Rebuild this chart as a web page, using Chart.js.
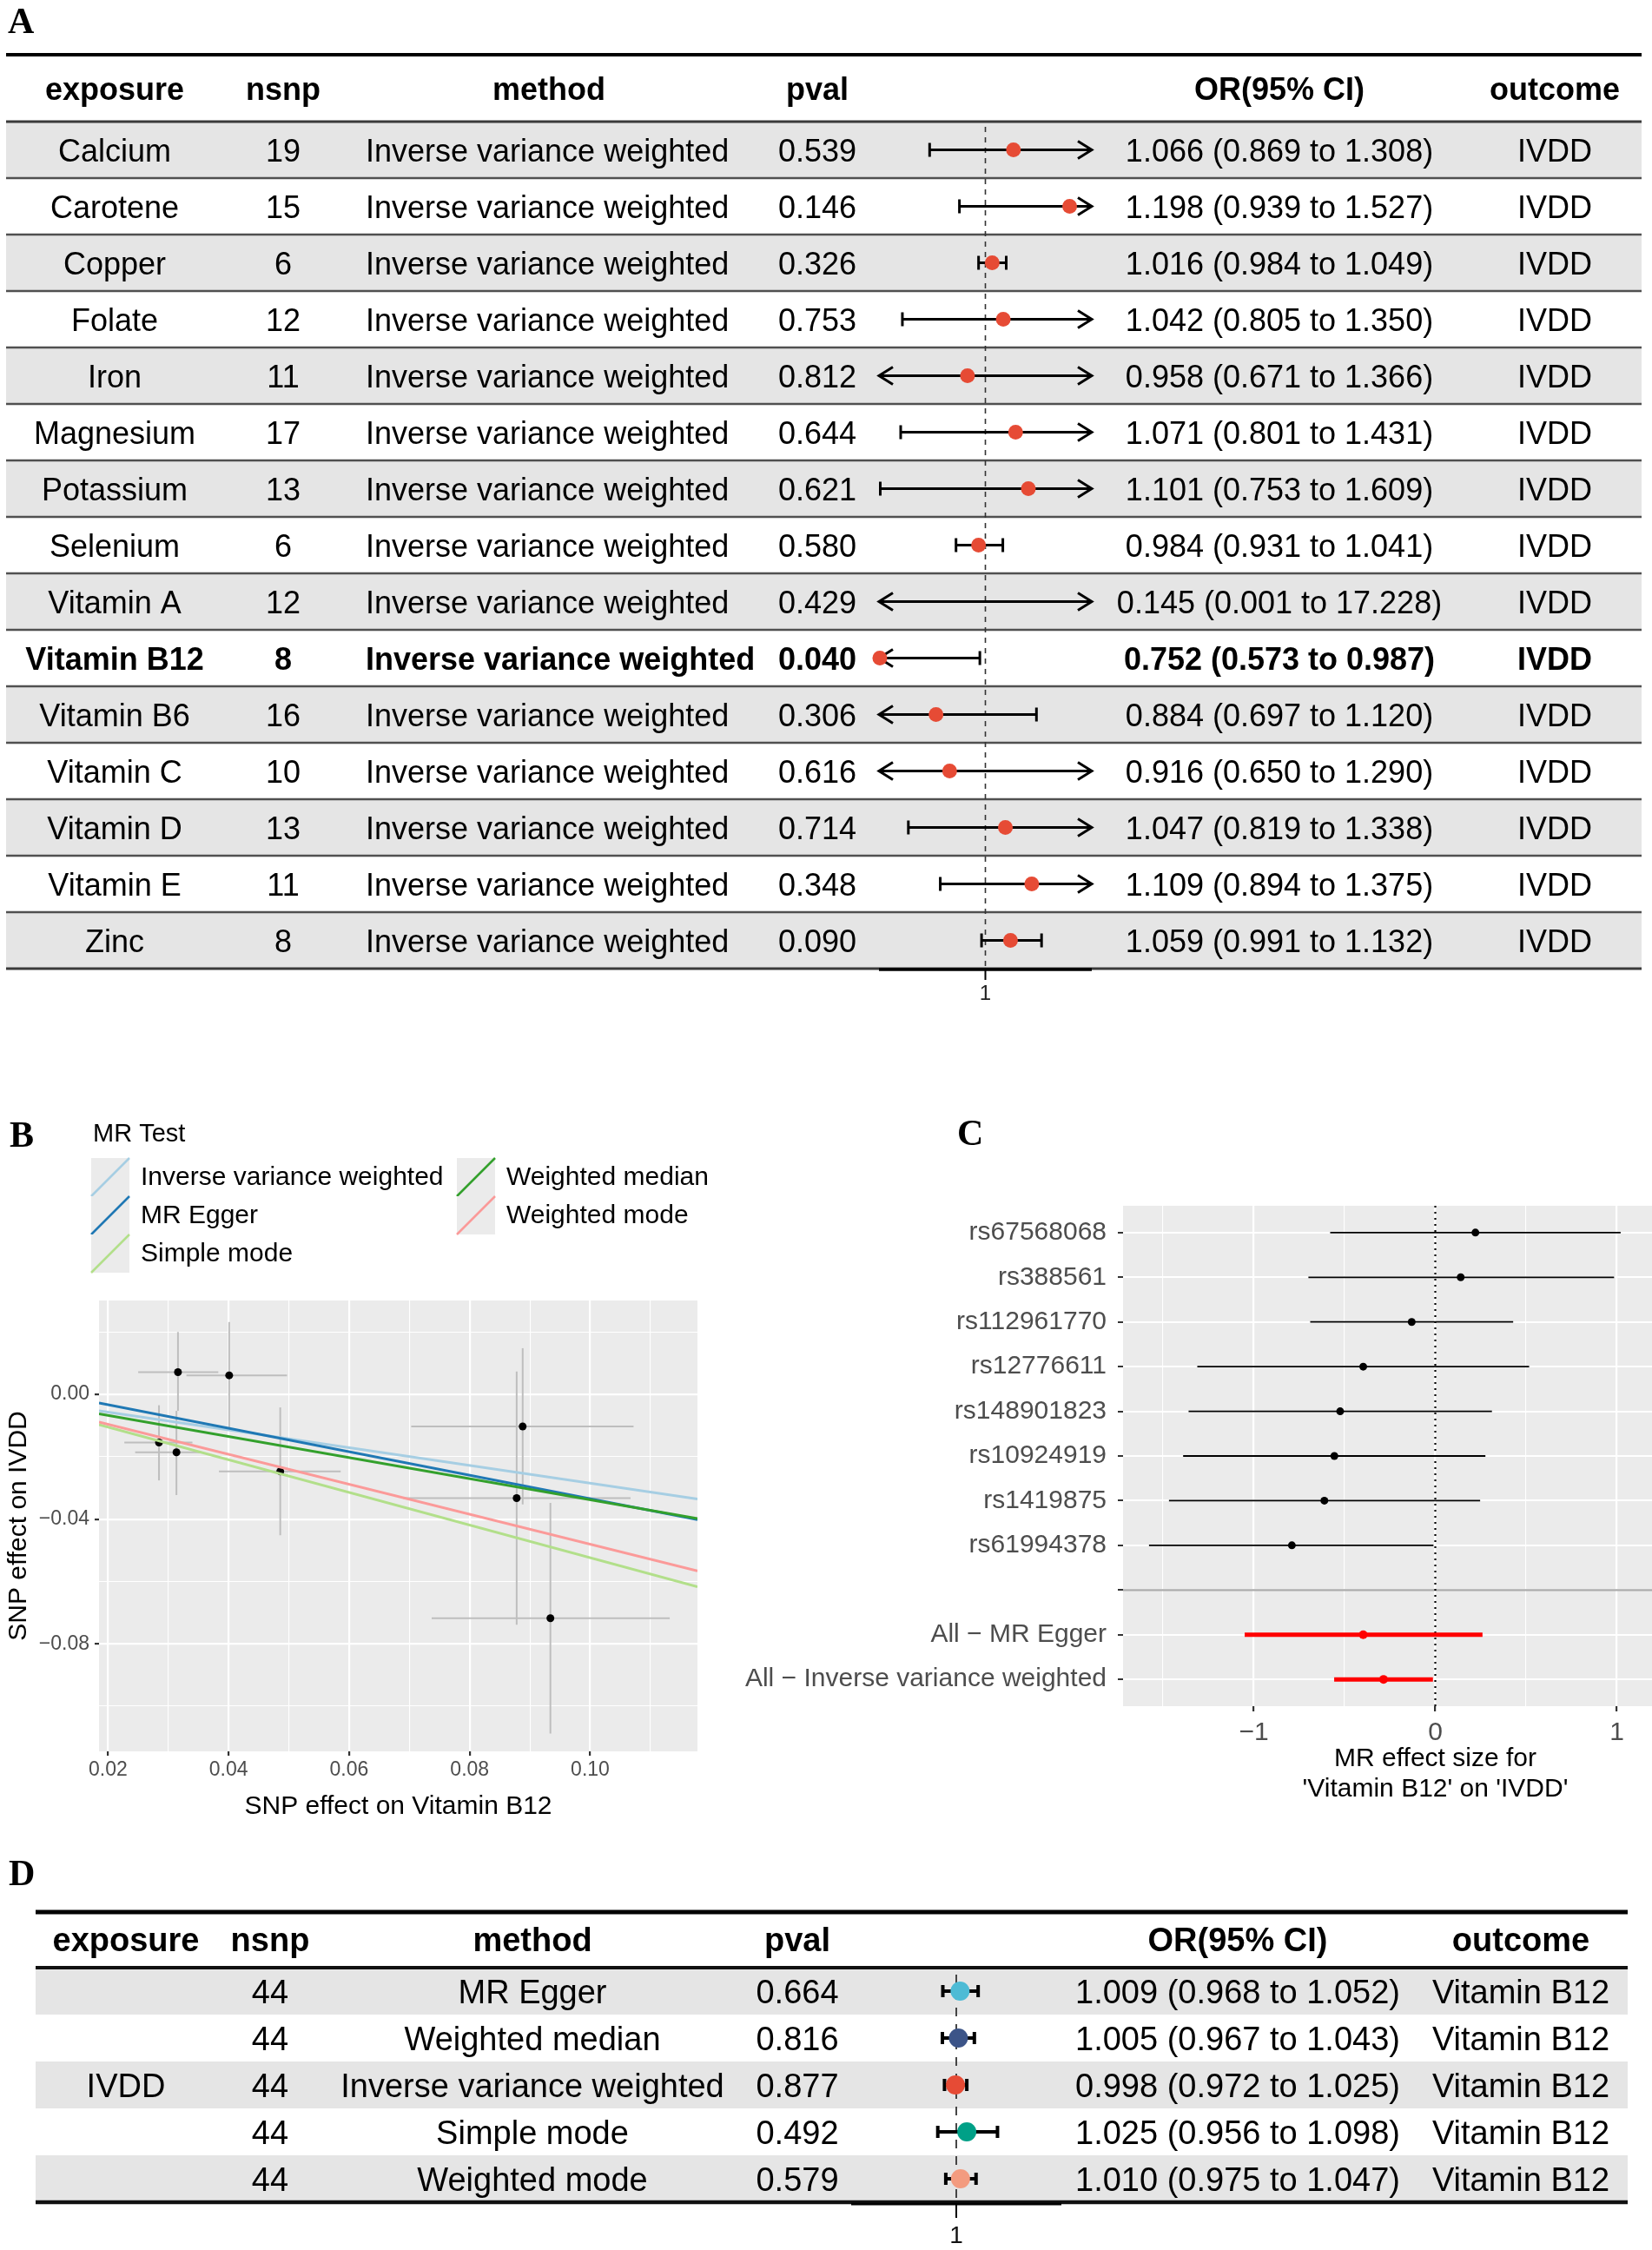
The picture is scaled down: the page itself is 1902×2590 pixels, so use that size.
<!DOCTYPE html>
<html>
<head>
<meta charset="utf-8">
<script src="https://cdn.jsdelivr.net/npm/chart.js@4.4.1/dist/chart.umd.min.js"></script>
<style>
html, body { margin:0; padding:0; background:#fff; width:1902px; height:2590px; overflow:hidden; position:relative; }
canvas { position:absolute; display:block; }
#panelA { left:0; top:0; }
#panelB { left:0; top:1270px; }
#panelC { left:840px; top:1270px; }
#panelD { left:0; top:2120px; }
</style>
</head>
<body>
<canvas id="panelA" width="1902" height="1180"></canvas>
<canvas id="panelB" width="840" height="850"></canvas>
<canvas id="panelC" width="1177" height="850"></canvas>
<canvas id="panelD" width="1902" height="470"></canvas>
<script>
// ---------- data : panel A (nutrients -> IVDD, IVW) ----------
const headA = ['exposure', 'nsnp', 'method', 'pval', '', 'OR(95% CI)', 'outcome'];
const exposuresA = ['Calcium', 'Carotene', 'Copper', 'Folate', 'Iron', 'Magnesium', 'Potassium', 'Selenium',
  'Vitamin A', 'Vitamin B12', 'Vitamin B6', 'Vitamin C', 'Vitamin D', 'Vitamin E', 'Zinc'];
const nsnpA = [19, 15, 6, 12, 11, 17, 13, 6, 12, 8, 16, 10, 13, 11, 8];
const pvalA = [0.539, 0.146, 0.326, 0.753, 0.812, 0.644, 0.621, 0.580, 0.429, 0.040, 0.306, 0.616, 0.714, 0.348, 0.090];
const orA = [1.066, 1.198, 1.016, 1.042, 0.958, 1.071, 1.101, 0.984, 0.145, 0.752, 0.884, 0.916, 1.047, 1.109, 1.059];
const loA = [0.869, 0.939, 0.984, 0.805, 0.671, 0.801, 0.753, 0.931, 0.001, 0.573, 0.697, 0.650, 0.819, 0.894, 0.991];
const hiA = [1.308, 1.527, 1.049, 1.350, 1.366, 1.431, 1.609, 1.041, 17.228, 0.987, 1.120, 1.290, 1.338, 1.375, 1.132];
const methodA = 'Inverse variance weighted';
const outcomeA = 'IVDD';
const forestLimits = [0.75, 1.25];
const forestTick = 1;

// ---------- data : panel B (scatter, Vitamin B12 -> IVDD) ----------
const snpX = [0.0316, 0.0401, 0.02845, 0.03135, 0.04857, 0.0888, 0.0878, 0.0934];
const snpY = [0.0071, 0.0061, -0.01545, -0.0186, -0.0247, -0.0103, -0.0333, -0.0718];
const snpXlo = [0.0250, 0.0330, 0.0227, 0.0245, 0.0384, 0.0703, 0.0690, 0.0737];
const snpXhi = [0.0383, 0.0497, 0.0340, 0.0355, 0.0586, 0.1072, 0.1067, 0.1132];
const snpYlo = [-0.0053, -0.0110, -0.0276, -0.0323, -0.0452, -0.0353, -0.0739, -0.1088];
const snpYhi = [0.0200, 0.0232, -0.0035, -0.0053, -0.0042, 0.0148, 0.0073, -0.0348];
const methodsB = ['Inverse variance weighted', 'MR Egger', 'Simple mode', 'Weighted median', 'Weighted mode'];
const slopesB = [-0.285, -0.377, -0.524, -0.338, -0.481];
const interceptsB = [0, 0.0042, 0, 0, 0];
const colorsB = ['#A6CEE3', '#1F78B4', '#B2DF8A', '#33A02C', '#FB9A99'];
const xLimB = [0.0185, 0.1178];
const yLimB = [-0.1145, 0.0301];
const xTicksB = [0.02, 0.03, 0.04, 0.05, 0.06, 0.07, 0.08, 0.09, 0.10, 0.11];
const xTickLabelsB = ['0.02', '', '0.04', '', '0.06', '', '0.08', '', '0.10', ''];
const yTicksB = [0.02, 0.00, -0.02, -0.04, -0.06, -0.08, -0.10];
const yTickLabelsB = ['', '0.00', '', '\u22120.04', '', '\u22120.08', ''];

// ---------- data : panel C (single SNP forest) ----------
const rowsC = ['rs67568068', 'rs388561', 'rs112961770', 'rs12776611', 'rs148901823', 'rs10924919', 'rs1419875', 'rs61994378',
  '', 'All \u2212 MR Egger', 'All \u2212 Inverse variance weighted'];
const snpB = [0.221, 0.140, -0.130, -0.397, -0.524, -0.556, -0.611, -0.790];
const snpLo = [-0.579, -0.699, -0.689, -1.311, -1.359, -1.389, -1.467, -1.577];
const snpHi = [1.021, 0.985, 0.429, 0.517, 0.312, 0.276, 0.247, -0.010];
const allB = [-0.397, -0.285];
const allLo = [-1.050, -0.557];
const allHi = [0.260, -0.013];
const xLimC = [-1.72, 1.72];
const xTicksC = [-1.5, -1, -0.5, 0, 0.5, 1, 1.5];
const xTickLabelsC = ['', '\u22121', '', '0', '', '1', ''];

// ---------- data : panel D (IVDD -> Vitamin B12, reverse MR) ----------
const headD = ['exposure', 'nsnp', 'method', 'pval', '', 'OR(95% CI)', 'outcome'];
const exposureD = 'IVDD';
const methodsD = ['MR Egger', 'Weighted median', 'Inverse variance weighted', 'Simple mode', 'Weighted mode'];
const nsnpD = [44, 44, 44, 44, 44];
const pvalD = [0.664, 0.816, 0.877, 0.492, 0.579];
const orD = [1.009, 1.005, 0.998, 1.025, 1.010];
const loD = [0.968, 0.967, 0.972, 0.956, 0.975];
const hiD = [1.052, 1.043, 1.025, 1.098, 1.047];
const outcomeD = 'Vitamin B12';
const colorsD = ['#4DBBD5', '#3C5488', '#E64B35', '#00A087', '#F39B7F'];

// ---------- utilitaires ----------
const SANS = '"Liberation Sans", Arial, Helvetica, sans-serif';
const SERIF = '"Liberation Serif", "Times New Roman", serif';
Chart.defaults.font.family = SANS;
function fnt(size, weight) { return (weight || 'normal') + ' ' + size + 'px ' + SANS; }

function txt(ctx, s, x, y, font, color, align, base) {
  ctx.font = font; ctx.fillStyle = color || '#000';
  ctx.textAlign = align || 'center'; ctx.textBaseline = base || 'middle';
  ctx.fillText(s, x, y);
}
function seg(ctx, x1, y1, x2, y2, w, color, dash) {
  ctx.beginPath(); ctx.setLineDash(dash || []);
  ctx.lineWidth = w; ctx.strokeStyle = color;
  ctx.moveTo(x1, y1); ctx.lineTo(x2, y2); ctx.stroke();
  ctx.setLineDash([]);
}
function panelLabel(ctx, s, x, y) {
  ctx.font = 'bold 42px ' + SERIF; ctx.fillStyle = '#000';
  ctx.textAlign = 'left'; ctx.textBaseline = 'alphabetic';
  ctx.fillText(s, x, y);
}
function orText(o, l, h) { return o.toFixed(3) + ' (' + l.toFixed(3) + ' to ' + h.toFixed(3) + ')'; }

// whisker with caps, or arrows where the CI leaves the axis range
function whisker(ctx, xs, yp, lo, hi, st) {
  const a = Math.max(lo, xs.min), b = Math.min(hi, xs.max);
  const x1 = xs.getPixelForValue(a), x2 = xs.getPixelForValue(b);
  ctx.strokeStyle = st.color; ctx.lineWidth = st.lw; ctx.lineCap = 'butt'; ctx.lineJoin = 'miter';
  ctx.beginPath(); ctx.moveTo(x1, yp); ctx.lineTo(x2, yp); ctx.stroke();
  const end = (px, arrow, dir) => {
    ctx.beginPath();
    if (arrow) { ctx.moveTo(px - dir * st.al, yp - st.ah); ctx.lineTo(px, yp); ctx.lineTo(px - dir * st.al, yp + st.ah); }
    else if (st.cap) { ctx.moveTo(px, yp - st.cap); ctx.lineTo(px, yp + st.cap); }
    ctx.stroke();
  };
  end(x1, lo < xs.min, -1);
  end(x2, hi > xs.max, 1);
}

// ---------- panel A ----------
const colA = [132, 326, 632, 941, 0, 1473, 1790];
const methodLeftA = 421;
const tableA = {
  id: 'tableA',
  beforeDatasetsDraw(chart) {
    const { ctx, scales: { x, y } } = chart;
    const L = 7, R = 1890, n = exposuresA.length;
    ctx.save();
    for (let i = 0; i < n; i += 2) {
      const t = y.getPixelForValue(i - 0.5), b = y.getPixelForValue(i + 0.5);
      ctx.fillStyle = '#e5e5e5'; ctx.fillRect(L, t, R - L, b - t);
    }
    for (let i = 0; i < n - 1; i++) {
      const yy = y.getPixelForValue(i + 0.5);
      seg(ctx, L, yy, R, yy, 2.5, '#505050');
    }
    seg(ctx, L, 63, R, 63, 4, '#000');
    const hb = y.getPixelForValue(-0.5), bb = y.getPixelForValue(n - 0.5);
    seg(ctx, L, hb, R, hb, 3, '#3a3a3a');
    seg(ctx, L, bb, R, bb, 3, '#3a3a3a');
    headA.forEach((h, k) => { if (h) txt(ctx, h, colA[k], 105, fnt(36, 'bold')); });
    exposuresA.forEach((e, i) => {
      const yp = y.getPixelForValue(i) + 4;
      const f = fnt(36, pvalA[i] < 0.05 ? 'bold' : 'normal');
      const cells = [e, String(nsnpA[i]), '', pvalA[i].toFixed(3), '', orText(orA[i], loA[i], hiA[i]), outcomeA];
      cells.forEach((c, k) => { if (c) txt(ctx, c, colA[k], yp, f); });
      txt(ctx, methodA, methodLeftA, yp, f, '#000', 'left');
    });
    const x1 = x.getPixelForValue(forestTick);
    seg(ctx, x1, hb + 6, x1, bb, 1.6, '#333', [6, 6]);
    exposuresA.forEach((e, i) => {
      whisker(ctx, x, y.getPixelForValue(i), loA[i], hiA[i], { color: '#000', lw: 3, cap: 8, al: 16, ah: 10 });
    });
    ctx.restore();
  },
  afterDraw(chart) {
    const { ctx, scales: { x, y } } = chart;
    ctx.save();
    const yb = y.getPixelForValue(exposuresA.length - 0.5) + 1;
    seg(ctx, x.left, yb, x.right, yb, 3.5, '#000');
    const x1 = x.getPixelForValue(forestTick);
    seg(ctx, x1, yb, x1, yb + 12, 2, '#000');
    txt(ctx, String(forestTick), x1, yb + 28, fnt(24), '#222');
    panelLabel(ctx, 'A', 9, 38);
    ctx.restore();
  }
};

new Chart(document.getElementById('panelA'), {
  type: 'scatter',
  data: {
    datasets: [{
      data: exposuresA.map((e, i) => ({ x: orA[i], y: i })),
      pointRadius: 8.5, pointHoverRadius: 8.5, backgroundColor: '#E64B35', borderWidth: 0,
      clip: { left: 10, right: 10, top: 10, bottom: 10 }
    }]
  },
  options: {
    responsive: false, animation: false, devicePixelRatio: 1,
    layout: { padding: { left: 1012, right: 645, top: 140, bottom: 65 } },
    plugins: { legend: { display: false }, tooltip: { enabled: false } },
    scales: {
      x: { type: 'linear', min: forestLimits[0], max: forestLimits[1], display: false },
      y: { type: 'linear', min: -0.5, max: exposuresA.length - 0.5, reverse: true, display: false }
    }
  },
  plugins: [tableA]
});

// ---------- panel B ----------
const greyPanel = {
  id: 'greyPanel',
  beforeDraw(chart) {
    const { ctx, chartArea: a } = chart;
    ctx.save(); ctx.fillStyle = '#EBEBEB'; ctx.fillRect(a.left, a.top, a.right - a.left, a.bottom - a.top); ctx.restore();
  }
};
const scatterB = {
  id: 'scatterB',
  beforeDatasetsDraw(chart) {
    const { ctx, scales: { x, y } } = chart;
    ctx.save();
    snpX.forEach((v, i) => {
      const px = x.getPixelForValue(v), py = y.getPixelForValue(snpY[i]);
      seg(ctx, px, y.getPixelForValue(snpYlo[i]), px, y.getPixelForValue(snpYhi[i]), 2, '#BEBEBE');
      seg(ctx, x.getPixelForValue(snpXlo[i]), py, x.getPixelForValue(snpXhi[i]), py, 2, '#BEBEBE');
    });
    ctx.restore();
  },
  afterDraw(chart) {
    const { ctx } = chart;
    ctx.save();
    panelLabel(ctx, 'B', 11, 50);
    txt(ctx, 'MR Test', 107, 36, fnt(29), '#000', 'left');
    const ks = 44;
    methodsB.forEach((m, i) => {
      const col = Math.floor(i / 3), row = i % 3;
      const kx = col === 0 ? 105 : 526, ky = 63 + row * ks;
      ctx.fillStyle = '#EBEBEB'; ctx.fillRect(kx, ky, ks, ks);
      seg(ctx, kx, ky + ks, kx + ks, ky, 2.5, colorsB[i]);
      txt(ctx, m, kx + 57, ky + ks / 2 + 1, fnt(30), '#000', 'left');
    });
    ctx.restore();
  }
};
const isLab = (labels) => (c) => labels[c.index] !== '' && labels[c.index] !== undefined;

new Chart(document.getElementById('panelB'), {
  type: 'scatter',
  data: {
    datasets: methodsB.map((m, i) => ({
      type: 'line', label: m, showLine: true, pointRadius: 0, borderColor: colorsB[i], borderWidth: 3,
      data: xLimB.map(xv => ({ x: xv, y: interceptsB[i] + slopesB[i] * xv }))
    })).reverse().concat([{
      label: 'SNP', data: snpX.map((v, i) => ({ x: v, y: snpY[i] })),
      pointRadius: 4.5, pointHoverRadius: 4.5, backgroundColor: '#000', borderWidth: 0
    }])
  },
  options: {
    responsive: false, animation: false, devicePixelRatio: 1,
    layout: { padding: { left: 0, right: 37, top: 227, bottom: 0 } },
    plugins: { legend: { display: false }, tooltip: { enabled: false } },
    scales: {
      x: {
        type: 'linear', min: xLimB[0], max: xLimB[1],
        afterBuildTicks: s => { s.ticks = xTicksB.map(v => ({ value: v })); },
        afterFit: s => { s.height = 104; },
        ticks: { autoSkip: false, maxRotation: 0, padding: 3, color: '#4d4d4d', font: { size: 23 },
          callback: (v, i) => xTickLabelsB[i] },
        grid: { color: '#fff', lineWidth: c => isLab(xTickLabelsB)(c) ? 2.2 : 1.1,
          tickColor: c => isLab(xTickLabelsB)(c) ? '#333' : 'rgba(0,0,0,0)', tickLength: 5 },
        border: { display: false },
        title: { display: true, text: 'SNP effect on Vitamin B12', color: '#000', font: { size: 30 }, padding: { top: 4, bottom: 22 } }
      },
      y: {
        type: 'linear', min: yLimB[0], max: yLimB[1],
        afterBuildTicks: s => { s.ticks = yTicksB.map(v => ({ value: v })); },
        afterFit: s => { s.width = 114; },
        ticks: { autoSkip: false, padding: 6, color: '#4d4d4d', font: { size: 23 },
          callback: (v, i) => yTickLabelsB[i] },
        grid: { color: '#fff', lineWidth: c => isLab(yTickLabelsB)(c) ? 2.2 : 1.1,
          tickColor: c => isLab(yTickLabelsB)(c) ? '#333' : 'rgba(0,0,0,0)', tickLength: 5 },
        border: { display: false },
        title: { display: true, text: 'SNP effect on IVDD', color: '#000', font: { size: 30 }, padding: { top: 4, bottom: 4 } }
      }
    }
  },
  plugins: [greyPanel, scatterB]
});

// ---------- panel C ----------
const forestC = {
  id: 'forestC',
  beforeDatasetsDraw(chart) {
    const { ctx, scales: { x, y }, chartArea: a } = chart;
    ctx.save();
    const ys = y.getPixelForValue(snpB.length);
    seg(ctx, a.left, ys, a.right, ys, 2.2, '#ABABAB');
    const x0 = x.getPixelForValue(0);
    seg(ctx, x0, a.top, x0, a.bottom, 2.2, '#000', [2, 5]);
    snpB.forEach((v, i) => whisker(ctx, x, y.getPixelForValue(i), snpLo[i], snpHi[i], { color: '#000', lw: 1.8, cap: 0, al: 0, ah: 0 }));
    allB.forEach((v, i) => whisker(ctx, x, y.getPixelForValue(snpB.length + 1 + i), allLo[i], allHi[i], { color: '#FF0000', lw: 5, cap: 0, al: 0, ah: 0 }));
    ctx.restore();
  },
  afterDraw(chart) {
    chart.ctx.save();
    panelLabel(chart.ctx, 'C', 262, 48);
    chart.ctx.restore();
  }
};

new Chart(document.getElementById('panelC'), {
  type: 'scatter',
  data: {
    datasets: [
      { data: allB.map((v, i) => ({ x: v, y: snpB.length + 1 + i })), pointRadius: 5, pointHoverRadius: 5, backgroundColor: '#FF0000', borderWidth: 0 },
      { data: snpB.map((v, i) => ({ x: v, y: i })), pointRadius: 4.5, pointHoverRadius: 4.5, backgroundColor: '#000', borderWidth: 0 }
    ]
  },
  options: {
    responsive: false, animation: false, devicePixelRatio: 1,
    layout: { padding: { left: 0, right: 2, top: 118, bottom: 0 } },
    plugins: { legend: { display: false }, tooltip: { enabled: false } },
    scales: {
      x: {
        type: 'linear', min: xLimC[0], max: xLimC[1],
        afterBuildTicks: s => { s.ticks = xTicksC.map(v => ({ value: v })); },
        afterFit: s => { s.height = 156; },
        ticks: { autoSkip: false, maxRotation: 0, padding: 7, color: '#4d4d4d', font: { size: 30 },
          callback: (v, i) => xTickLabelsC[i] },
        grid: { color: '#fff', lineWidth: c => isLab(xTickLabelsC)(c) ? 2.2 : 1.1,
          tickColor: c => isLab(xTickLabelsC)(c) ? '#333' : 'rgba(0,0,0,0)', tickLength: 6 },
        border: { display: false },
        title: { display: true, text: ['MR effect size for', "'Vitamin B12' on 'IVDD'"], color: '#000',
          font: { size: 30, lineHeight: 1.17 }, padding: { top: 4, bottom: 43 } }
      },
      y: {
        type: 'linear', min: -0.6, max: rowsC.length - 0.4, reverse: true,
        afterBuildTicks: s => { s.ticks = rowsC.map((r, i) => ({ value: i })); },
        afterFit: s => { s.width = 453; },
        ticks: { autoSkip: false, padding: 13, color: '#4d4d4d', font: { size: 30 },
          callback: (v, i) => rowsC[i] },
        grid: { color: '#fff', lineWidth: 2, tickColor: '#333', tickLength: 6 },
        border: { display: false }
      }
    }
  },
  plugins: [greyPanel, forestC]
});

// ---------- panel D ----------
const colD = [145, 311, 613, 918, 0, 1425, 1751];
const tableD = {
  id: 'tableD',
  beforeDatasetsDraw(chart) {
    const { ctx, scales: { x, y } } = chart;
    const L = 41, R = 1874, n = methodsD.length;
    ctx.save();
    for (let i = 0; i < n; i += 2) {
      const t = y.getPixelForValue(i - 0.5), b = y.getPixelForValue(i + 0.5);
      ctx.fillStyle = '#e5e5e5'; ctx.fillRect(L, t, R - L, b - t);
    }
    const hb = y.getPixelForValue(-0.5), bb = y.getPixelForValue(n - 0.5);
    seg(ctx, L, 81, R, 81, 5, '#000');
    seg(ctx, L, hb, R, hb, 4, '#111');
    seg(ctx, L, bb, R, bb, 4.5, '#111');
    headD.forEach((h, k) => { if (h) txt(ctx, h, colD[k], 116, fnt(38, 'bold')); });
    methodsD.forEach((m, i) => {
      const yp = y.getPixelForValue(i) + 3.5;
      const cells = [i === Math.floor(n / 2) ? exposureD : '', String(nsnpD[i]), m, pvalD[i].toFixed(3), '',
        orText(orD[i], loD[i], hiD[i]), outcomeD];
      cells.forEach((c, k) => { if (c) txt(ctx, c, colD[k], yp, fnt(38)); });
    });
    const x1 = x.getPixelForValue(forestTick);
    seg(ctx, x1, hb + 8, x1, bb, 1.8, '#333', [10, 9]);
    methodsD.forEach((m, i) => {
      whisker(ctx, x, y.getPixelForValue(i), loD[i], hiD[i], { color: '#000', lw: 4, cap: 7, al: 14, ah: 9 });
    });
    ctx.restore();
  },
  afterDraw(chart) {
    const { ctx, scales: { x, y } } = chart;
    ctx.save();
    const yb = y.getPixelForValue(methodsD.length - 0.5) + 2;
    seg(ctx, x.left, yb, x.right, yb, 3, '#000');
    const x1 = x.getPixelForValue(forestTick);
    seg(ctx, x1, yb, x1, yb + 16, 2, '#000');
    txt(ctx, String(forestTick), x1, 454, fnt(28), '#111');
    panelLabel(ctx, 'D', 10, 50);
    ctx.restore();
  }
};

new Chart(document.getElementById('panelD'), {
  type: 'scatter',
  data: {
    datasets: [{
      data: methodsD.map((m, i) => ({ x: orD[i], y: i })),
      pointRadius: 11, pointHoverRadius: 11, backgroundColor: colorsD, borderWidth: 0,
      clip: { left: 12, right: 12, top: 12, bottom: 12 }
    }]
  },
  options: {
    responsive: false, animation: false, devicePixelRatio: 1,
    layout: { padding: { left: 980, right: 680, top: 145, bottom: 55 } },
    plugins: { legend: { display: false }, tooltip: { enabled: false } },
    scales: {
      x: { type: 'linear', min: forestLimits[0], max: forestLimits[1], display: false },
      y: { type: 'linear', min: -0.5, max: methodsD.length - 0.5, reverse: true, display: false }
    }
  },
  plugins: [tableD]
});
</script>
</body>
</html>
